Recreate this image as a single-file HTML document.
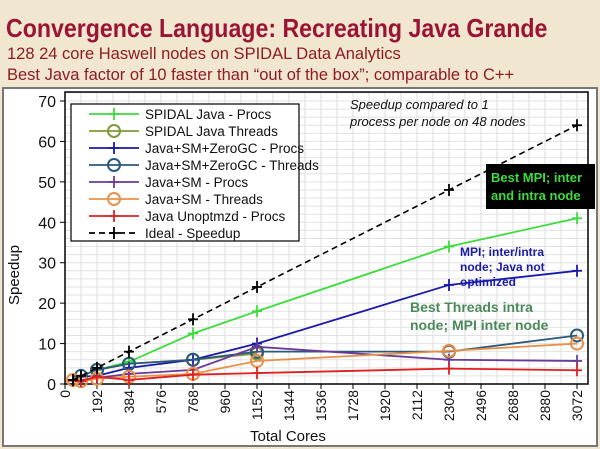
<!DOCTYPE html>
<html><head><meta charset="utf-8"><style>
body{margin:0;width:600px;height:449px;overflow:hidden;background:#f1e6cf;font-family:"Liberation Sans",sans-serif}
</style></head><body>
<div style="position:absolute;left:6px;top:13px;font-size:26px;font-weight:bold;color:#9a1433;white-space:nowrap;transform:scaleX(0.89);transform-origin:0 0">Convergence Language: Recreating Java Grande</div>
<div style="position:absolute;left:7px;top:45px;font-size:16.5px;color:#8e1c22;white-space:nowrap">128 24 core Haswell nodes on SPIDAL Data Analytics</div>
<div style="position:absolute;left:7px;top:66px;font-size:16.5px;color:#8e1c22;white-space:nowrap">Best Java factor of 10 faster than “out of the box”; comparable to C++</div>
<svg id="chart" width="600" height="449" style="position:absolute;left:0;top:0" font-family="Liberation Sans, sans-serif"></svg>
<script>
const xTicks=[0,192,384,576,768,960,1152,1344,1536,1728,1920,2112,2304,2496,2688,2880,3072];
const yTicks=[0,10,20,30,40,50,60,70];
const xPoints=[48,96,192,384,768,1152,2304,3072];
const seriesNames=["SPIDAL Java - Procs","SPIDAL Java Threads","Java+SM+ZeroGC - Procs","Java+SM+ZeroGC - Threads","Java+SM - Procs","Java+SM - Threads","Java Unoptmzd - Procs","Ideal - Speedup"];
const spidalProcs=[null,null,3.5,5.5,12.5,18,34,41];
const spidalThreads=[null,null,3.5,5,6,7.5,null,null];
const zeroGCProcs=[1,1.8,2,4,6,10,24.5,28];
const zeroGCThreads=[null,2,3.5,5,6,8,8,12];
const smProcs=[1,1,1.5,2.5,3.5,9.2,6,5.7];
const smThreads=[1,0.7,1.3,1.8,2.5,5.7,8.2,10];
const unoptProcs=[0.8,0.7,1.8,1,2.3,2.7,3.8,3.4];
const ideal=[1,2,4,8,16,24,48,64];
const colors=["#3ddc3d","#7f9a3a","#1a1aa8","#2a5a7a","#6a3a9a","#e8904a","#e02020","#000"];
const markers=["plus","circle","plus","circle","plus","circle","plus","plus"];
const allSeries=[spidalProcs,spidalThreads,zeroGCProcs,zeroGCThreads,smProcs,smThreads,unoptProcs,ideal];
const NS="http://www.w3.org/2000/svg";
const svg=document.getElementById('chart');
const X0=65,X1=577,Y0=384,Y1=101;
const sx=v=>X0+(v/3072)*(X1-X0);
const sy=v=>Y0-(v/70)*(Y0-Y1);
function mk(t,a,p){const e=document.createElementNS(NS,t);for(const k in a)e.setAttribute(k,a[k]);(p||svg).appendChild(e);return e;}
let e=mk('rect',{x:3,y:88,width:594,height:358,fill:'#fff',stroke:'#777','stroke-width':2});


for(let v=0;v<=3072;v+=96){e=mk('line',{x1:sx(v),x2:sx(v),y1:92,y2:Y0,stroke:'#ddd','stroke-width':1});}
for(let v=0;v<=72;v+=2){if(sy(v)<92)break;e=mk('line',{x1:X0,x2:588,y1:sy(v),y2:sy(v),stroke:'#e2e2e2','stroke-width':1});}
e=mk('rect',{x:X0,y:92,width:523,height:Y0-92,fill:'none',stroke:'#000','stroke-width':1.5});


xTicks.forEach(v=>{mk('line',{x1:sx(v),x2:sx(v),y1:Y0,y2:Y0+5,stroke:'#000'});
 const t=mk('text',{x:0,y:0,'font-size':14,transform:`translate(${sx(v)+5},${Y0+6}) rotate(-90)`,'text-anchor':'end',fill:'#111'});t.textContent=v;
 });
yTicks.forEach(v=>{mk('line',{x1:X0-5,x2:X0,y1:sy(v),y2:sy(v),stroke:'#000'});
 const t=mk('text',{x:X0-9,y:sy(v)+6,'font-size':16,'text-anchor':'end',fill:'#111'});t.textContent=v;
 });
e=mk('text',{x:250,y:441,'font-size':15,fill:'#111'});e.textContent='Total Cores';

e=mk('text',{x:0,y:0,'font-size':15,fill:'#111',transform:'translate(19,275) rotate(-90)','text-anchor':'middle'});e.textContent='Speedup';

function marker(type,x,y,c,g){
 if(type==='circle')mk('circle',{cx:x,cy:y,r:6,fill:'none',stroke:c,'stroke-width':2},g);
 else{mk('line',{x1:x-5,x2:x+5,y1:y,y2:y,stroke:c,'stroke-width':1.8},g);mk('line',{x1:x,x2:x,y1:y-6,y2:y+6,stroke:c,'stroke-width':1.8},g);}
}
allSeries.forEach((s,i)=>{
 const g=mk('g',{});
 
 
 const pts=[];s.forEach((v,j)=>{if(v!==null)pts.push([sx(xPoints[j]),sy(v)]);});
 mk('polyline',{points:pts.map(p=>p.join(',')).join(' '),fill:'none',stroke:colors[i],'stroke-width':i===7?1.6:1.8,'stroke-dasharray':i===7?'6,4':'none'},g);
 pts.forEach(p=>marker(markers[i],p[0],p[1],colors[i],g));
});
const lg=mk('g',{});
mk('rect',{x:71,y:104,width:228,height:137,fill:'#fff',stroke:'#000','stroke-width':1.2},lg);
seriesNames.forEach((n,i)=>{
 const y=114+i*17;const en=mk('g',{},lg);
 
 mk('line',{x1:89,x2:139,y1:y,y2:y,stroke:colors[i],'stroke-width':1.8,'stroke-dasharray':i===7?'6,4':'none'},en);
 marker(markers[i],114,y,colors[i],en);
 const t=mk('text',{x:145,y:y+5,'font-size':13.5,fill:'#111'},en);t.textContent=n;
});
function note(lines,x,y,opts,name){const t=mk('text',Object.assign({x:x,y:y},opts));lines.forEach((l,k)=>{const s=mk('tspan',{x:x,dy:k?opts.lh:0},t);s.textContent=l;});}
note(['Speedup compared to 1','process per node on 48 nodes'],350,109,{'font-size':13,'font-style':'italic',fill:'#111',lh:17},'speedup-note');
e=mk('rect',{x:486,y:164,width:109,height:45,fill:'#000'});
note(['Best MPI; inter','and intra node'],491,182,{'font-size':13,'font-weight':'bold',fill:'#3ddc3d',lh:18},'best-mpi-note');
note(['MPI; inter/intra','node; Java not','optimized'],460,256,{'font-size':12,'font-weight':'bold',fill:'#1a1aa8',lh:15},'mpi-note');
note(['Best Threads intra','node; MPI inter node'],410,312,{'font-size':14,'font-weight':'bold',fill:'#4a8a5a',lh:18},'best-threads-note');
</script>
</body></html>
